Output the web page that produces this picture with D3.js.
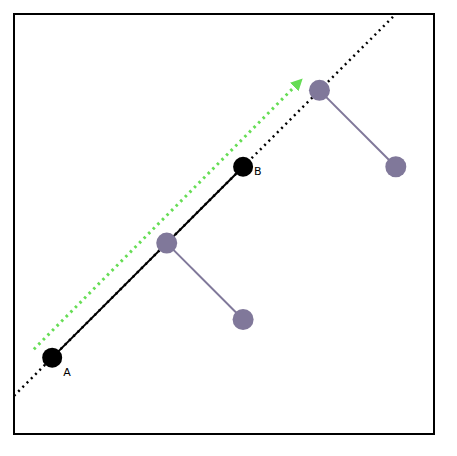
<!DOCTYPE html><html><head><script src="https://cdn.jsdelivr.net/npm/d3@7"></script>
<style>body{margin:0;background:#fff}</style></head><body><svg id="c" width="457" height="456"></svg>
<script>
const blackPts=[{x:1,y:2,label:"A"},{x:6,y:7,label:"B"}];
const purplePts=[[4,5],[6,3],[8,9],[10,7]];
const purpleLinks=[[[4,5],[6,3]],[[8,9],[10,7]]];
const dottedLine=[[0,1],[10,11]];
const arrowLine=[[0.52,2.22],[7.45,9.2]];
const svg=d3.select("#c");
const x=d3.scaleLinear().domain([0,11]).range([14,434]);
const y=d3.scaleLinear().domain([0,11]).range([434,14]);
svg.append("defs").append("marker").attr("id","ar").attr("viewBox","0 0 10 10").attr("refX",5).attr("refY",5)
 .attr("markerWidth",4).attr("markerHeight",4).attr("orient","auto")
 .append("path").attr("d","M0,0L10,5L0,10Z").attr("fill","#66dd55");
const line=d3.line().x(d=>x(d[0])).y(d=>y(d[1]));
svg.append("path").attr("d",line(dottedLine)).attr("stroke","#000").attr("stroke-width",2.5).attr("stroke-dasharray","2,4").attr("fill","none");
svg.append("path").attr("d",line([[1,2],[6,7]])).attr("stroke","#000").attr("stroke-width",2).attr("fill","none");
svg.append("path").attr("d",line(arrowLine)).attr("stroke","#66dd55").attr("stroke-width",3).attr("stroke-dasharray","2.5,4").attr("fill","none").attr("marker-end","url(#ar)");
purpleLinks.forEach(l=>svg.append("path").attr("d",line(l)).attr("stroke","#80789a").attr("stroke-width",2).attr("fill","none"));
svg.selectAll(".p").data(purplePts).join("circle").attr("cx",d=>x(d[0])).attr("cy",d=>y(d[1])).attr("r",10.5).attr("fill","#80789a");
svg.selectAll(".b").data(blackPts).join("circle").attr("cx",d=>x(d.x)).attr("cy",d=>y(d.y)).attr("r",10).attr("fill","#000");
svg.selectAll(".t").data(blackPts).join("text").attr("x",d=>x(d.x)+11).attr("y",d=>y(d.y)+18-(d.label=="B"?10:0))
 .text(d=>d.label).attr("font-family","DejaVu Sans").attr("font-size",11);
svg.append("rect").attr("x",14).attr("y",14).attr("width",420).attr("height",420).attr("fill","none").attr("stroke","#000").attr("stroke-width",2);
</script></body></html>
